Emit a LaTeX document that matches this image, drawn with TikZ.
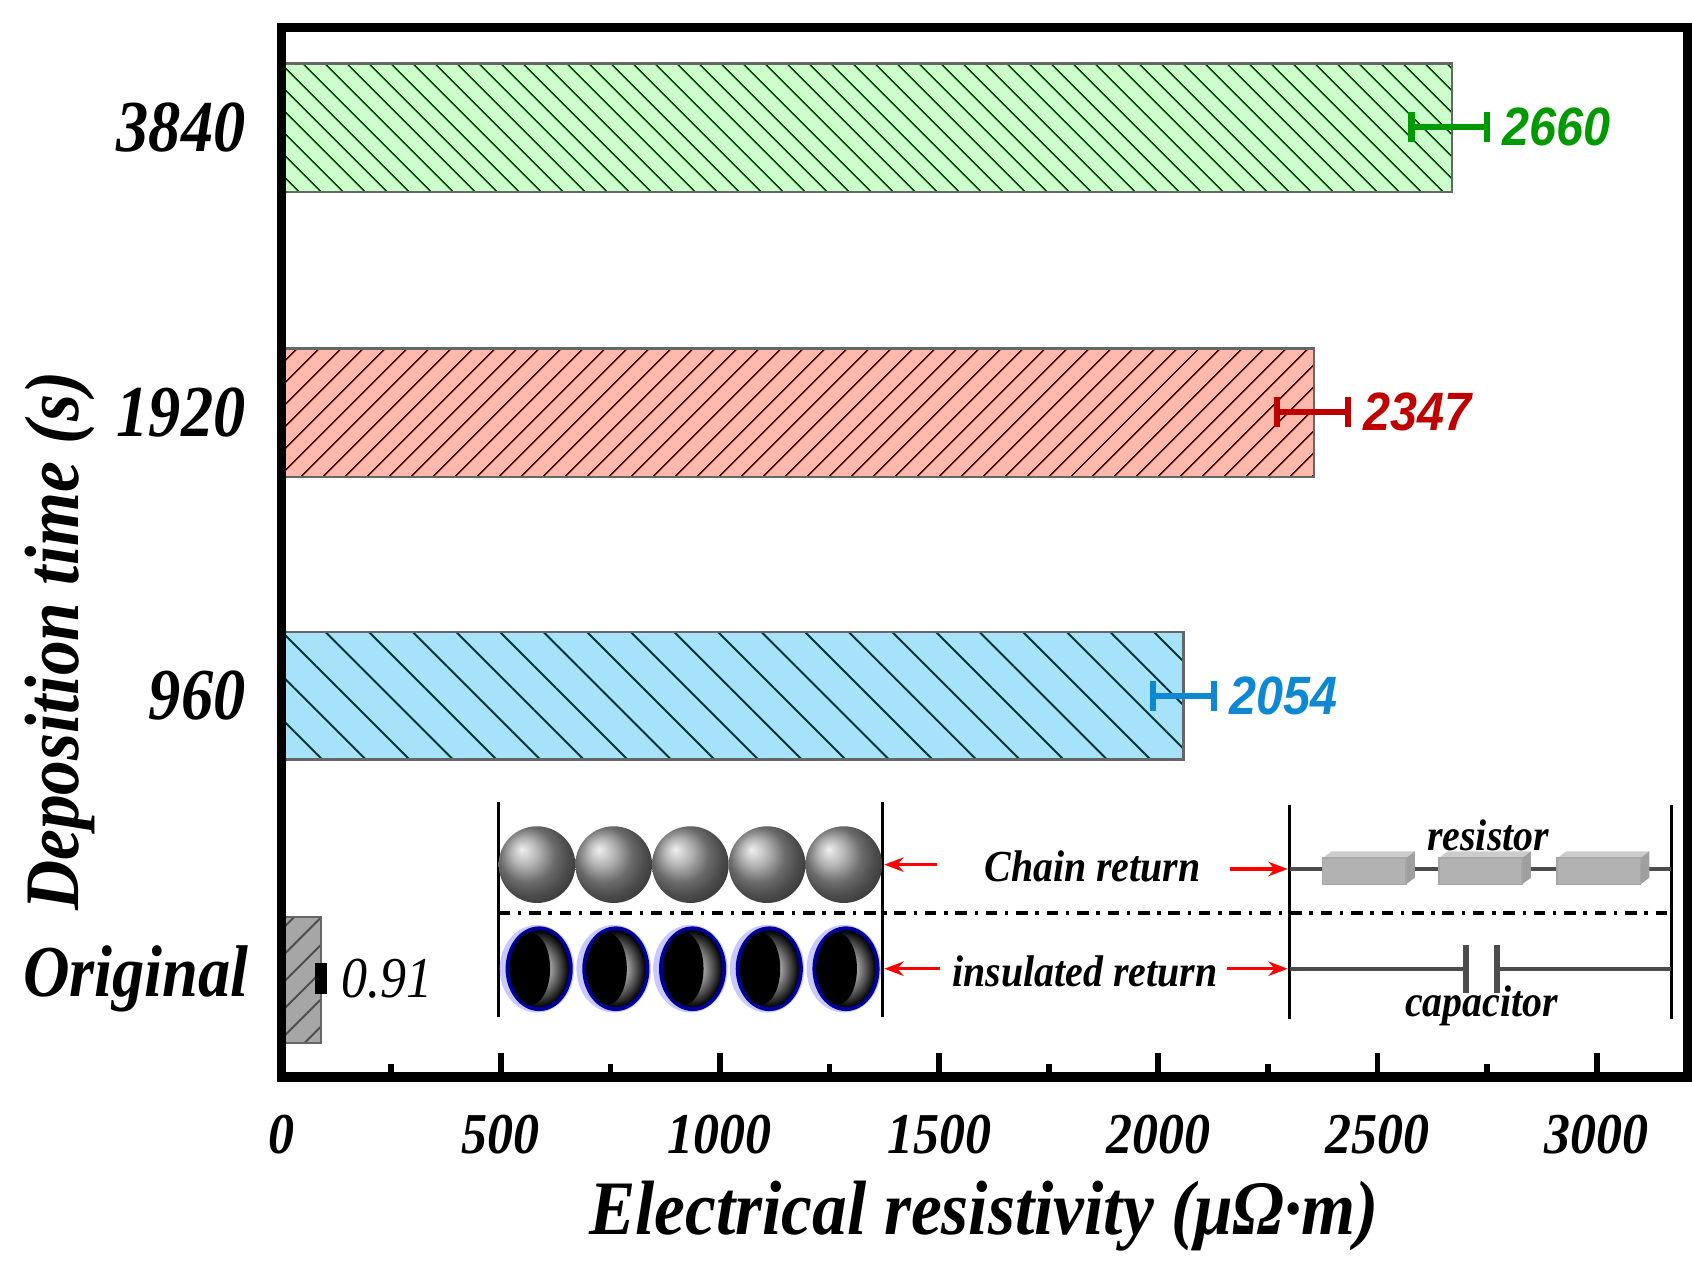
\documentclass[tikz,border=0pt]{standalone}
\usepackage{fontspec}
\setmainfont{Liberation Serif}
\newfontfamily\sansf{Liberation Sans}
\usetikzlibrary{patterns.meta,arrows.meta}
\begin{document}
\begin{tikzpicture}[x=0.01cm,y=-0.01cm,
 lab/.style={font=\fontsize{19}{19}\selectfont\bfseries\itshape,xscale=0.88},
 tick/.style={font=\fontsize{15}{15}\selectfont\bfseries\itshape,xscale=0.9},
 val/.style={font=\fontsize{14}{14}\selectfont\sansf\bfseries\itshape,anchor=west,xscale=0.9},
 ins/.style={font=\fontsize{11.5}{11.5}\selectfont\bfseries\itshape,xscale=0.9},
 bar/.style={draw=gray!80!black,line width=0.6pt},
 rarr/.style={red,-{Stealth[length=5pt]},line width=0.8pt},
 eb/.style={line width=1.6pt}]
\useasboundingbox (0,0) rectangle (1544,1155);
% bars
\fill[green!20!white] (260,58) rectangle (1325,175);
\fill[pattern={Lines[angle=-45,distance=4pt,line width=0.4pt]},pattern color=green!30!black] (260,58) rectangle (1325,175);
\draw[bar] (260,58) rectangle (1325,175);
\fill[red!25!white!90!orange] (260,318) rectangle (1199,435);
\fill[pattern={Lines[angle=45,distance=4pt,line width=0.4pt]},pattern color=red!30!black] (260,318) rectangle (1199,435);
\draw[bar] (260,318) rectangle (1199,435);
\fill[cyan!35!white] (260,577) rectangle (1080,693);
\fill[pattern={Lines[angle=-45,distance=8pt,line width=0.5pt]},pattern color=cyan!20!black] (260,577) rectangle (1080,693);
\draw[bar] (260,577) rectangle (1080,693);
\fill[gray!70] (258,837) rectangle (293,952);
\fill[pattern={Lines[angle=45,distance=5pt,line width=0.5pt]},pattern color=black!70] (258,837) rectangle (293,952);
\draw[bar] (258,837) rectangle (293,952);
% error bars
\draw[eb,green!60!black] (1288,116) -- (1357,116) (1288,102) -- (1288,130) (1357,102) -- (1357,130);
\node[val,text=green!60!black] (v1) at (1360,116) {2660};
\draw[eb,red!75!black] (1165,376) -- (1230,376) (1165,362) -- (1165,390) (1230,362) -- (1230,390);
\node[val,text=red!75!black] (v2) at (1233,376) {2347};
\draw[eb,cyan!70!blue] (1052,635) -- (1108,635) (1052,621) -- (1052,649) (1108,621) -- (1108,649);
\node[val,text=cyan!70!blue] (v3) at (1111,635) {2054};
\draw[line width=3pt] (293,879) -- (293,907);
\node[font=\fontsize{15}{15}\selectfont\itshape,anchor=west,xscale=0.9] (v4) at (300,893) {0.91};
% frame
\draw[line width=2.5pt] (257,25) rectangle (1540,983);
\foreach \i in {0,...,12}{
 \pgfmathsetmacro\xx{257+100*\i}
 \pgfmathparse{mod(\i,2)==0 ? 22 : 12}\let\tl\pgfmathresult
 \draw[line width=1.5pt] (\xx,983) -- (\xx,983-\tl);}
\foreach \v/\xx in {0/257,500/457,1000/657,1500/857,2000/1057,2500/1257,3000/1457}
 \node[tick] (t\v) at (\xx,1035) {\v};
\node[font=\fontsize{20}{20}\selectfont\bfseries\itshape,xscale=0.9] (xl) at (898,1110) {Electrical resistivity (μΩ·m)};
\node[font=\fontsize{20}{20}\selectfont\bfseries\itshape,rotate=90,xscale=0.9] (yl) at (55,585) {Deposition time (s)};
\node[lab,anchor=east] (y1) at (235,116) {3840};
\node[lab,anchor=east] (y2) at (235,376) {1920};
\node[lab,anchor=east] (y3) at (235,635) {960};
\node[lab,anchor=east] (y4) at (238,893) {Original};
% inset
\draw[line width=0.8pt] (455,732) -- (455,928) (805,732) -- (805,928) (1177,735) -- (1177,930) (1525,735) -- (1525,930);
\draw[line width=0.9pt,dash dot] (455,833) -- (1525,833);
\foreach \c in {490,560,630,700,770}{
 \shade[ball color=gray!80] (\c,789) circle (35);
 \fill[blue!30!white,opacity=0.7] (\c,884) ellipse (34 and 40);
 \draw[blue!60!black,line width=1.5pt] (\c+2,884) ellipse (28 and 36);
 \shade[inner color=white,outer color=black,shading=radial] (\c+2,884) ellipse (27 and 35);
 \fill[black] (\c-6,884) ellipse (18 and 33);
}
\node[ins] (cr) at (997,791) {Chain return};
\node[ins] (ir) at (990,886) {insulated return};
\node[ins] (rs) at (1358,762) {resistor};
\node[ins] (cp) at (1352,918) {capacitor};
\coordinate (a1) at (807,789); \coordinate (a1s) at (855,789);
\coordinate (a2) at (1175,793); \coordinate (a2s) at (1122,793);
\coordinate (a3) at (807,884); \coordinate (a3s) at (858,884);
\coordinate (a4) at (1175,884); \coordinate (a4s) at (1120,884);
\draw[rarr] (a1s) -- (a1);
\draw[rarr] (a2s) -- (a2);
\draw[rarr] (a3s) -- (a3);
\draw[rarr] (a4s) -- (a4);
\draw[gray!60!black,line width=1pt] (1177,793) -- (1525,793);
\foreach \b in {1207,1313,1421}{
 \fill[gray!40] (\b,783) -- (\b+8,777) -- (\b+84,777) -- (\b+76,783) -- cycle;
 \fill[gray!75] (\b+76,783) -- (\b+84,777) -- (\b+84,801) -- (\b+76,807) -- cycle;
 \fill[gray!60,draw=gray!70] (\b,783) rectangle (\b+76,807);
}
\draw[gray!60!black,line width=1pt] (1177,884) -- (1338,884) (1366,884) -- (1525,884);
\draw[gray!60!black,line width=1.5pt] (1338,862) -- (1338,906) (1366,862) -- (1366,906);
\end{tikzpicture}
\end{document}
